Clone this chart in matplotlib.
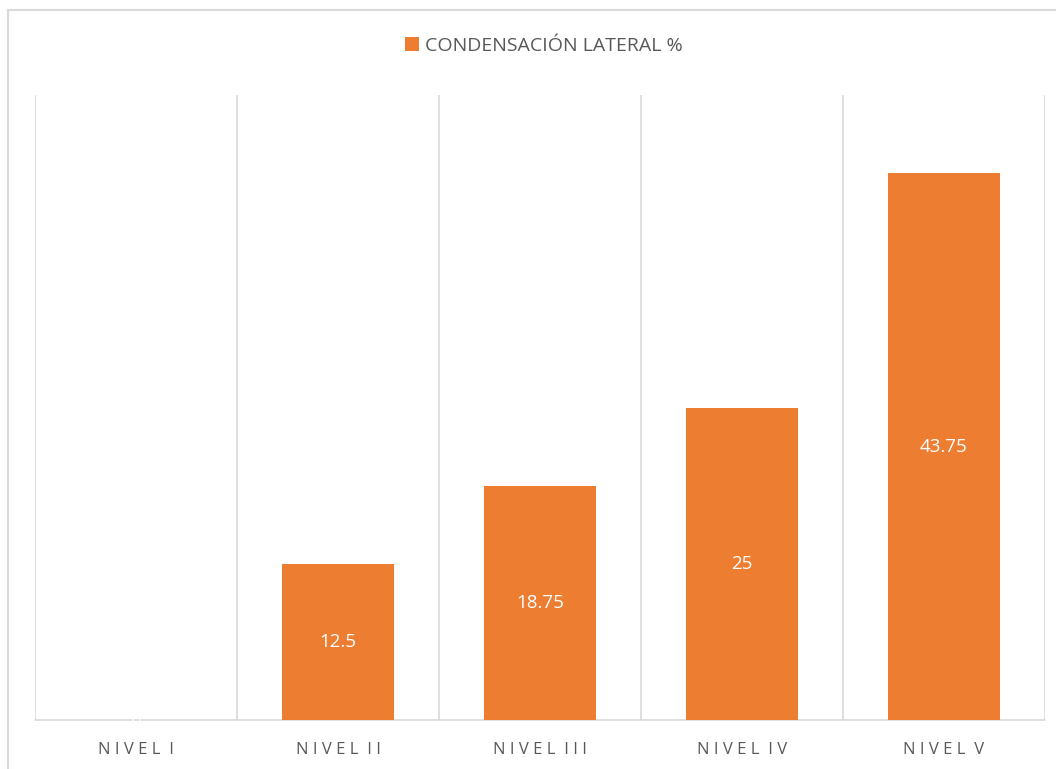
import matplotlib
matplotlib.use("Agg")
import matplotlib.pyplot as plt
from matplotlib.patches import Rectangle

categories = ["NIVEL I", "NIVEL II", "NIVEL III", "NIVEL IV", "NIVEL V"]
values = [0, 12.5, 18.75, 25, 43.75]
value_labels = ["0", "12.5", "18.75", "25", "43.75"]
series_name = "CONDENSACIÓN LATERAL %"

ORANGE = "#ED7D31"
GRID = "#D9D9D9"
TEXT = "#595959"

plt.rcParams["font.family"] = ["Open Sans", "DejaVu Sans"]


def spaced(label):
    # letter-spaced axis labels: one space between letters, two between words
    return "  ".join(" ".join(w) for w in label.split())


W, H = 1056, 769
fig = plt.figure(figsize=(W / 100, H / 100), dpi=100)

# outer chart frame (right and bottom edges fall outside the canvas)
fig.add_artist(Rectangle((8 / W, -0.1), 1.2, 1 - 10 / H + 0.1, transform=fig.transFigure,
                         fill=False, edgecolor=GRID, lw=1.5))

ax = fig.add_axes([35 / W, 49 / H, 1010 / W, 625 / H])
x = range(len(categories))
bars = ax.bar(x, values, width=0.555, color=ORANGE, label=series_name, zorder=3)

ax.set_xlim(-0.5, len(categories) - 0.5)
ax.set_ylim(0, 50)

# category separators
for b in [i - 0.5 for i in range(len(categories) + 1)]:
    ax.axvline(b, color=GRID, lw=1.2, zorder=1)

for s in ["top", "left", "right"]:
    ax.spines[s].set_visible(False)
ax.spines["bottom"].set_color(GRID)
ax.spines["bottom"].set_linewidth(1.2)
ax.set_yticks([])
ax.set_xticks(list(x))
ax.set_xticklabels([spaced(c) for c in categories], fontsize=12, color=TEXT)
ax.tick_params(axis="x", length=0, pad=16)

for rect, v, lab in zip(bars, values, value_labels):
    ax.text(rect.get_x() + rect.get_width() / 2, v / 2, lab, ha="center", va="center",
            color="white", fontsize=13.5, zorder=4)

fig.legend(handles=[bars], labels=[series_name], loc="center", bbox_to_anchor=(544 / W, 1 - 46 / H),
           frameon=False, fontsize=14, handlelength=0.7, handleheight=0.7, handletextpad=0.3,
           labelcolor=TEXT)

fig.savefig("out.png", dpi=100)
